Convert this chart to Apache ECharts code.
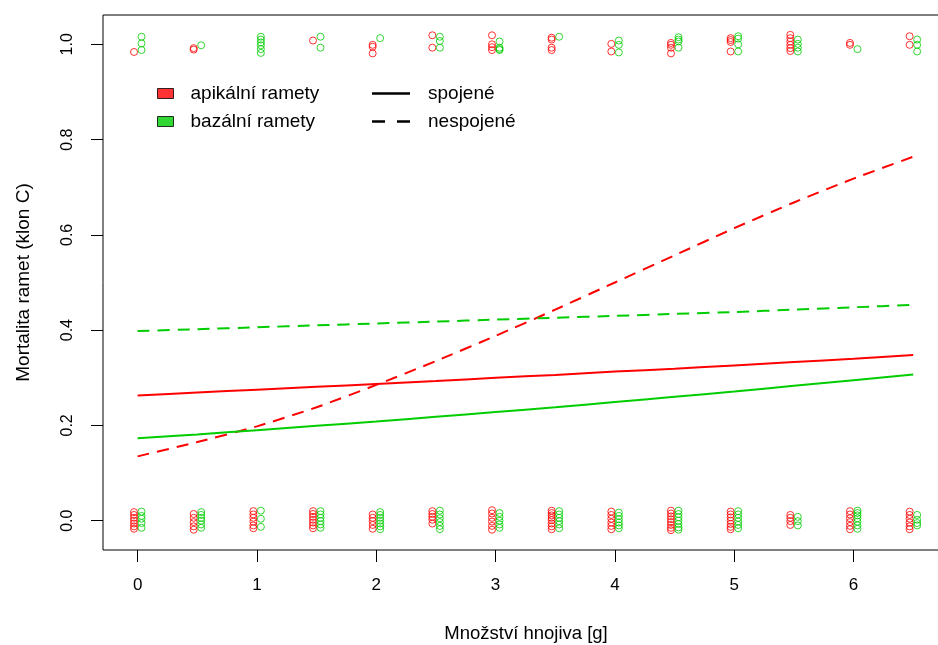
<!DOCTYPE html>
<html>
<head>
<meta charset="utf-8">
<script src="https://cdn.jsdelivr.net/npm/echarts@6/dist/echarts.min.js"></script>
<style>
  html, body { margin: 0; padding: 0; background: #fff; }
  #chart { width: 938px; height: 645px; }
</style>
</head>
<body>
<div id="chart"></div>
<script>
// Dávky hnojiva (g)
const davky = [0, 0.5, 1, 1.5, 2, 2.5, 3, 3.5, 4, 4.5, 5, 5.5, 6, 6.5];

// Pozorování (jittered 0/1) pro každou dávku: uhynulé (≈1) a přežívající (≈0)
const apikalniUhynule = [
  [0.984], [0.992, 0.989], [], [1.008], [0.999, 0.995, 0.981], [1.019, 0.993],
  [1.019, 1.000, 0.994, 0.988], [1.014, 1.010, 0.993, 0.988], [1.001, 0.985],
  [1.003, 0.999, 0.993, 0.981], [1.013, 1.009, 1.005, 0.985],
  [1.020, 1.013, 1.006, 0.999, 0.992, 0.986], [1.003, 0.999], [1.017, 0.999]
];
const bazalniUhynule = [
  [1.016, 1.002, 0.988], [0.998], [1.016, 1.010, 1.004, 0.998, 0.990, 0.982],
  [1.016, 0.993], [1.013], [1.016, 1.007, 0.993], [1.006, 0.993, 0.990, 0.988],
  [1.016], [1.008, 0.999, 0.983], [1.015, 1.010, 1.006, 0.993],
  [1.017, 1.012, 1.000, 0.985], [1.010, 1.001, 0.993, 0.985], [0.990],
  [1.010, 0.999, 0.985]
];
const apikalniZive = [
  [0.018, 0.012, 0.006, 0.000, -0.006, -0.012, -0.017],
  [0.014, 0.006, -0.003, -0.012, -0.019],
  [0.020, 0.013, 0.006, -0.002, -0.010, -0.016],
  [0.020, 0.014, 0.008, 0.002, -0.004, -0.010, -0.016],
  [0.013, 0.006, -0.001, -0.009, -0.017],
  [0.020, 0.014, 0.008, 0.002, -0.006],
  [0.022, 0.015, 0.006, -0.002, -0.011, -0.019],
  [0.021, 0.016, 0.011, 0.006, 0.001, -0.006, -0.012, -0.018],
  [0.019, 0.012, 0.004, -0.004, -0.011, -0.018],
  [0.021, 0.015, 0.009, 0.003, -0.003, -0.009, -0.015, -0.020],
  [0.019, 0.013, 0.007, 0.000, -0.007, -0.013, -0.018],
  [0.012, 0.006, -0.001, -0.009],
  [0.020, 0.013, 0.005, -0.003, -0.011, -0.018],
  [0.019, 0.012, 0.004, -0.004, -0.012, -0.018]
];
const bazalniZive = [
  [0.019, 0.010, 0.004, -0.005, -0.015],
  [0.018, 0.012, 0.006, 0.000, -0.008, -0.015],
  [0.021, 0.004, -0.013],
  [0.020, 0.013, 0.006, -0.001, -0.008, -0.015],
  [0.018, 0.012, 0.006, 0.000, -0.006, -0.012, -0.018],
  [0.021, 0.013, 0.005, -0.003, -0.011, -0.018],
  [0.016, 0.008, 0.000, -0.008, -0.015],
  [0.020, 0.013, 0.006, -0.001, -0.008, -0.016],
  [0.017, 0.010, 0.003, -0.004, -0.010, -0.016],
  [0.021, 0.014, 0.007, 0.000, -0.007, -0.014, -0.019],
  [0.020, 0.013, 0.006, -0.002, -0.009, -0.016],
  [0.008, -0.001, -0.010],
  [0.021, 0.016, 0.011, 0.005, -0.002, -0.010, -0.017],
  [0.012, 0.002, -0.005, -0.010]
];

// Odhadnuté křivky mortality (logistická regrese) v bodech davky
const apikalniSpojene   = [0.263, 0.269, 0.275, 0.281, 0.287, 0.293, 0.300, 0.306, 0.313, 0.319, 0.326, 0.333, 0.340, 0.348];
const apikalniNespojene = [0.135, 0.165, 0.198, 0.238, 0.285, 0.335, 0.388, 0.443, 0.500, 0.557, 0.614, 0.668, 0.718, 0.764];
const bazalniSpojene    = [0.173, 0.181, 0.190, 0.199, 0.208, 0.218, 0.228, 0.238, 0.249, 0.260, 0.271, 0.283, 0.295, 0.307];
const bazalniNespojene  = [0.398, 0.402, 0.406, 0.410, 0.414, 0.418, 0.422, 0.426, 0.430, 0.434, 0.438, 0.443, 0.448, 0.453];

// Popisky os
const xTicks = [0, 1, 2, 3, 4, 5, 6];
const yTicks = [0, 0.2, 0.4, 0.6, 0.8, 1.0];

const RED = '#ff0000';
const GREEN = '#00cd00';

// rozložení bodů: apikální mírně vlevo, bazální mírně vpravo od dávky
function body(skupiny1, skupiny0, posun) {
  const out = [];
  davky.forEach((d, i) => {
    skupiny1[i].forEach(v => out.push([d + posun, v]));
    skupiny0[i].forEach(v => out.push([d + posun, v]));
  });
  return out;
}
function krivka(hodnoty) {
  return davky.map((d, i) => [d, hodnoty[i]]);
}

const FONT = 'Liberation Sans, Arial, sans-serif';
const dash = [12, 8];

const chart = echarts.init(document.getElementById('chart'), null, { renderer: 'canvas' });
chart.setOption({
  animation: false,
  backgroundColor: '#ffffff',
  textStyle: { fontFamily: FONT },
  grid: {
    left: 103, top: 15, width: 846, height: 535,
    show: true, borderColor: '#000', borderWidth: 1,
    backgroundColor: 'transparent',
    containLabel: false, outerBoundsMode: 'none'
  },
  xAxis: {
    type: 'value', min: -0.29, max: 6.80,
    name: 'Množství hnojiva [g]', nameLocation: 'middle', nameGap: 74,
    nameTextStyle: { fontSize: 18.5, color: '#000', fontFamily: FONT },
    axisLine: { show: false, onZero: false },
    axisTick: { show: true, inside: false, length: 12, customValues: xTicks, lineStyle: { color: '#000', width: 1 } },
    axisLabel: { customValues: xTicks, margin: 27, fontSize: 17, color: '#000', fontFamily: FONT },
    splitLine: { show: false }
  },
  yAxis: {
    type: 'value', min: -0.0616, max: 1.0616,
    name: 'Mortalita ramet (klon C)', nameLocation: 'middle', nameGap: 70, nameRotate: 90,
    nameTextStyle: { fontSize: 19, color: '#000', fontFamily: FONT },
    axisLine: { show: false, onZero: false },
    axisTick: { show: true, inside: false, length: 12, customValues: yTicks, lineStyle: { color: '#000', width: 1 } },
    axisLabel: {
      customValues: yTicks, rotate: 90, margin: 27, fontSize: 16, color: '#000', fontFamily: FONT,
      formatter: v => v.toFixed(1)
    },
    splitLine: { show: false }
  },
  legend: [
    {
      left: 157, top: 84, padding: 0, orient: 'vertical', selectedMode: false,
      itemWidth: 16, itemHeight: 10, itemGap: 9,
      textStyle: { fontSize: 19, color: '#000', fontFamily: FONT, padding: [0, 0, 0, 12] },
      data: [
        { name: 'apikální ramety', icon: 'rect', itemStyle: { color: RED, borderColor: '#000', borderWidth: 1 } },
        { name: 'bazální ramety', icon: 'rect', itemStyle: { color: GREEN, borderColor: '#000', borderWidth: 1 } }
      ]
    },
    {
      left: 372, top: 84, padding: 0, orient: 'vertical', selectedMode: false,
      itemWidth: 38, itemHeight: 2.5, itemGap: 9,
      textStyle: { fontSize: 19, color: '#000', fontFamily: FONT, padding: [0, 0, 0, 13] },
      data: [
        { name: 'spojené', icon: 'path://M0,0H38V2.5H0Z', itemStyle: { color: '#000', borderWidth: 0 } },
        { name: 'nespojené', icon: 'path://M0,0H13V2.5H0Z M25,0H38V2.5H25Z', itemStyle: { color: '#000', borderWidth: 0 } }
      ]
    }
  ],
  series: [
    {
      name: 'apikální ramety', type: 'scatter', symbol: 'circle', symbolSize: 7,
      itemStyle: { color: 'transparent', borderColor: RED, borderWidth: 1 },
      data: body(apikalniUhynule, apikalniZive, -0.03)
    },
    {
      name: 'bazální ramety', type: 'scatter', symbol: 'circle', symbolSize: 7,
      itemStyle: { color: 'transparent', borderColor: GREEN, borderWidth: 1 },
      data: body(bazalniUhynule, bazalniZive, 0.033)
    },
    { name: 'spojené', type: 'line', data: [], color: '#000' },
    { name: 'nespojené', type: 'line', data: [], color: '#000' },
    {
      name: 'apikální – spojené', type: 'line', symbol: 'none', smooth: 0.2,
      lineStyle: { color: RED, width: 2 }, data: krivka(apikalniSpojene)
    },
    {
      name: 'apikální – nespojené', type: 'line', symbol: 'none', smooth: 0.2,
      lineStyle: { color: RED, width: 2, type: dash }, data: krivka(apikalniNespojene)
    },
    {
      name: 'bazální – spojené', type: 'line', symbol: 'none', smooth: 0.2,
      lineStyle: { color: GREEN, width: 2 }, data: krivka(bazalniSpojene)
    },
    {
      name: 'bazální – nespojené', type: 'line', symbol: 'none', smooth: 0.2,
      lineStyle: { color: GREEN, width: 2, type: dash }, data: krivka(bazalniNespojene)
    }
  ]
});
</script>
</body>
</html>
